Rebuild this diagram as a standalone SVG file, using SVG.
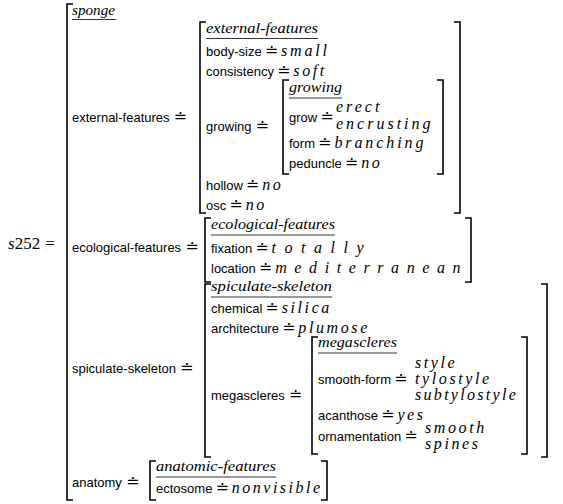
<svg xmlns="http://www.w3.org/2000/svg" width="563" height="504" viewBox="0 0 563 504">
<style>
.lb{font-family:"Liberation Sans",Arial,sans-serif;font-size:13px;fill:#000}
.eq{font-family:"DejaVu Sans",sans-serif;font-size:16px}
.v{font-family:"Liberation Serif",serif;font-style:italic;font-size:16px;letter-spacing:2.6px;fill:#000}
.m{font-family:"Liberation Serif",serif;font-size:17px;fill:#000}
.t{font-family:"Liberation Serif",serif;font-style:italic;font-size:14px;fill:#000}
.br{fill:none;stroke:#000;stroke-width:1.6}
.ul{stroke:#000;stroke-width:0.8}
</style>
<rect width="563" height="504" fill="#fff"/>
<g id="s252">
<text class="m" x="8" y="249"><tspan font-style="italic">s</tspan>252<tspan dx="5">=</tspan></text>
<path class="br" d="M73,4H67V500H73"/>
<text class="t" x="72" y="15" textLength="43" lengthAdjust="spacingAndGlyphs">sponge</text>
<line class="ul" x1="72" y1="19.5" x2="116" y2="19.5"/>
</g>
<g id="external-features">
<text class="lb" x="72" y="122">external-features<tspan class="eq" dx="4">≐</tspan></text>
<path class="br" d="M206,22H200V213H206"/>
<path class="br" d="M454,22H460V213H454"/>
<text class="t" x="206" y="33" textLength="112" lengthAdjust="spacingAndGlyphs">external-features</text>
<line class="ul" x1="206" y1="38.5" x2="318" y2="38.5"/>
<text class="lb" x="206" y="56">body-size<tspan class="eq" dx="3">≐</tspan><tspan class="v" dx="3" style="letter-spacing:2.8px">small</tspan></text>
<text class="lb" x="206" y="76">consistency<tspan class="eq" dx="3">≐</tspan><tspan class="v" dx="3">soft</tspan></text>
<text class="lb" x="206" y="190">hollow<tspan class="eq" dx="3">≐</tspan><tspan class="v" dx="3">no</tspan></text>
<text class="lb" x="206" y="210">osc<tspan class="eq" dx="3">≐</tspan><tspan class="v" dx="3">no</tspan></text>
</g>
<g id="growing">
<text class="lb" x="206" y="131">growing<tspan class="eq" dx="4">≐</tspan></text>
<path class="br" d="M289,80H283V174H289"/>
<path class="br" d="M437,80H443V174H437"/>
<text class="t" x="289" y="92" textLength="53" lengthAdjust="spacingAndGlyphs">growing</text>
<line class="ul" x1="289" y1="98" x2="342" y2="98"/>
<text class="lb" x="289" y="122">grow<tspan class="eq" dx="3">≐</tspan></text>
<text class="v" x="336" y="112" style="letter-spacing:3px">erect</text>
<text class="v" x="336" y="129" style="letter-spacing:3px">encrusting</text>
<text class="lb" x="289" y="148">form<tspan class="eq" dx="3">≐</tspan><tspan class="v" dx="3" style="letter-spacing:2.9px">branching</tspan></text>
<text class="lb" x="289" y="168">peduncle<tspan class="eq" dx="3">≐</tspan><tspan class="v" dx="3">no</tspan></text>
</g>
<g id="ecological-features">
<text class="lb" x="72" y="252">ecological-features<tspan class="eq" dx="4">≐</tspan></text>
<path class="br" d="M211,218H205V282H211"/>
<path class="br" d="M465,218H471V282H465"/>
<text class="t" x="211" y="229" textLength="124" lengthAdjust="spacingAndGlyphs">ecological-features</text>
<line class="ul" x1="211" y1="235" x2="335" y2="235"/>
<text class="lb" x="211" y="253">fixation<tspan class="eq" dx="3">≐</tspan><tspan class="v" dx="3" style="letter-spacing:8.5px">totally</tspan></text>
<text class="lb" x="211" y="273">location<tspan class="eq" dx="3">≐</tspan><tspan class="v" dx="3" style="letter-spacing:7.6px">mediterranean</tspan></text>
</g>
<g id="spiculate-skeleton">
<text class="lb" x="72" y="373">spiculate-skeleton<tspan class="eq" dx="4">≐</tspan></text>
<path class="br" d="M211,284H205V457H211"/>
<path class="br" d="M541,284H547V457H541"/>
<text class="t" x="211" y="291" textLength="121" lengthAdjust="spacingAndGlyphs">spiculate-skeleton</text>
<line class="ul" x1="211" y1="297" x2="332" y2="297"/>
<text class="lb" x="211" y="313">chemical<tspan class="eq" dx="3">≐</tspan><tspan class="v" dx="3">silica</tspan></text>
<text class="lb" x="211" y="333">architecture<tspan class="eq" dx="3">≐</tspan><tspan class="v" dx="3">plumose</tspan></text>
</g>
<g id="megascleres">
<text class="lb" x="211" y="400">megascleres<tspan class="eq" dx="4">≐</tspan></text>
<path class="br" d="M318,337H312V454H318"/>
<path class="br" d="M521,337H527V454H521"/>
<text class="t" x="318" y="347" textLength="79" lengthAdjust="spacingAndGlyphs">megascleres</text>
<line class="ul" x1="318" y1="353" x2="397" y2="353"/>
<text class="lb" x="318" y="384">smooth-form<tspan class="eq" dx="3">≐</tspan></text>
<text class="v" x="415" y="368">style</text>
<text class="v" x="415" y="384">tylostyle</text>
<text class="v" x="415" y="400" style="letter-spacing:2.3px">subtylostyle</text>
<text class="lb" x="318" y="420">acanthose<tspan class="eq" dx="3">≐</tspan><tspan class="v" dx="3">yes</tspan></text>
<text class="lb" x="318" y="441">ornamentation<tspan class="eq" dx="3">≐</tspan></text>
<text class="v" x="425" y="433">smooth</text>
<text class="v" x="425" y="449">spines</text>
</g>
<g id="anatomy">
<text class="lb" x="72" y="487">anatomy<tspan class="eq" dx="4">≐</tspan></text>
<path class="br" d="M156,461H150V500H156"/>
<path class="br" d="M321,461H327V500H321"/>
<text class="t" x="156" y="471" textLength="120" lengthAdjust="spacingAndGlyphs">anatomic-features</text>
<line class="ul" x1="156" y1="477" x2="276" y2="477"/>
<text class="lb" x="156" y="493">ectosome<tspan class="eq" dx="3">≐</tspan><tspan class="v" dx="3" style="letter-spacing:2.5px">nonvisible</tspan></text>
</g>
<g id="connectors"/>
</svg>
